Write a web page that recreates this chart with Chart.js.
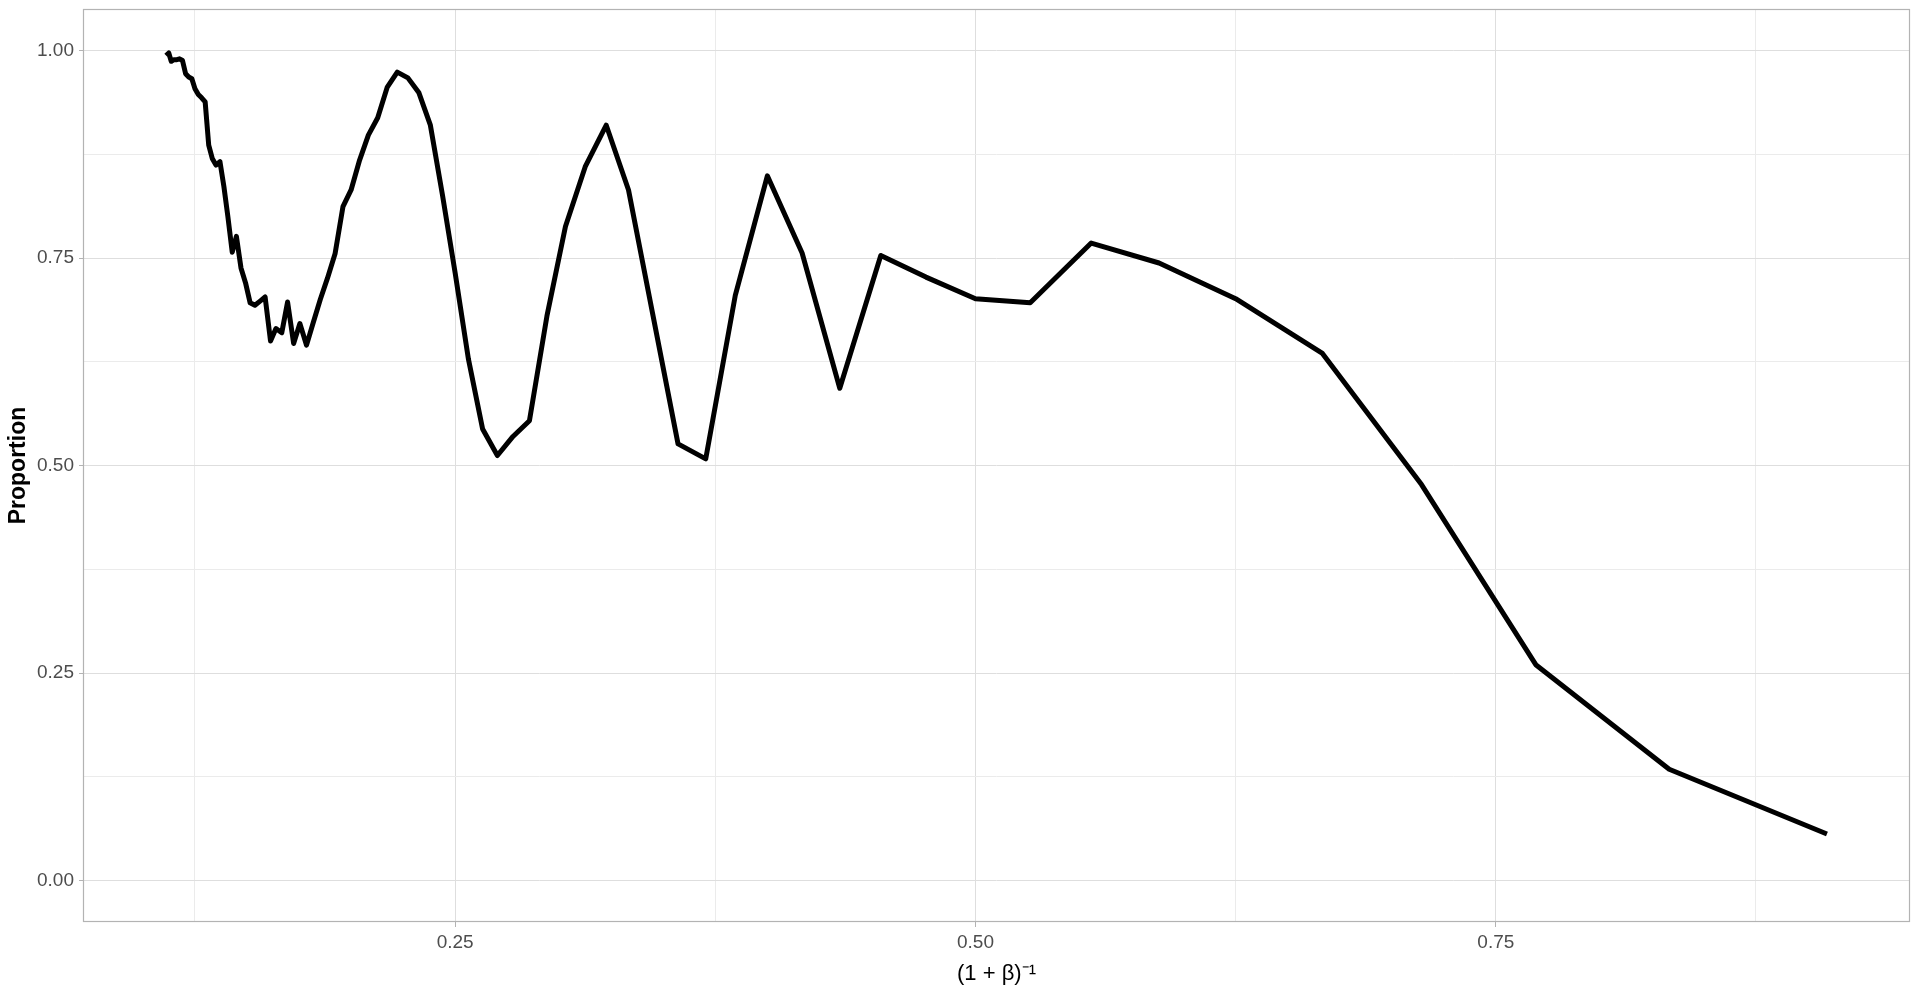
<!DOCTYPE html>
<html>
<head>
<meta charset="utf-8">
<script src="https://cdn.jsdelivr.net/npm/chart.js@4"></script>
<style>
  body { margin: 0; background: #fff; }
  #wrap { width: 1920px; height: 1002px; position: relative; }
</style>
</head>
<body>
<div id="wrap"><canvas id="line-chart"></canvas></div>
<script>

// x = (1+beta)^-1, read left to right
let xValues = [0.1111, 0.1124, 0.1136, 0.1149, 0.1163, 0.1176, 0.1190, 0.1205, 0.1220, 0.1235,
  0.1250, 0.1266, 0.1282, 0.1299, 0.1316, 0.1333, 0.1351, 0.1370, 0.1389, 0.1408,
  0.1429, 0.1449, 0.1471, 0.1493, 0.1515, 0.1538, 0.1563, 0.1587, 0.1613, 0.1639,
  0.1667, 0.1695, 0.1724, 0.1754, 0.1786, 0.1818, 0.1852, 0.1887, 0.1923, 0.1961,
  0.2000, 0.2041, 0.2083, 0.2128, 0.2174, 0.2222, 0.2273, 0.2326, 0.2381, 0.2439,
  0.2500, 0.2564, 0.2632, 0.2703, 0.2778, 0.2857, 0.2941, 0.3030, 0.3125, 0.3226,
  0.3333, 0.3448, 0.3571, 0.3704, 0.3846, 0.4000, 0.4167, 0.4348, 0.4545, 0.4762,
  0.5000, 0.5263, 0.5556, 0.5882, 0.6250, 0.6667, 0.7143, 0.7692, 0.8333, 0.9091];

let proportion = [0.994, 0.997, 0.987, 0.989, 0.989, 0.990, 0.988, 0.972, 0.968, 0.966,
  0.954, 0.947, 0.943, 0.938, 0.886, 0.870, 0.862, 0.866, 0.836, 0.800,
  0.757, 0.776, 0.738, 0.720, 0.696, 0.693, 0.698, 0.703, 0.650, 0.665,
  0.660, 0.697, 0.647, 0.671, 0.645, 0.672, 0.700, 0.726, 0.755, 0.812,
  0.832, 0.868, 0.898, 0.919, 0.956, 0.974, 0.967, 0.949, 0.910, 0.826,
  0.732, 0.628, 0.544, 0.512, 0.535, 0.554, 0.680, 0.788, 0.860, 0.910,
  0.832, 0.684, 0.526, 0.508, 0.705, 0.849, 0.756, 0.593, 0.753, 0.727,
  0.701, 0.696, 0.768, 0.744, 0.701, 0.635, 0.477, 0.260, 0.134, 0.056];

let xMajor = [0.25, 0.5, 0.75];
let xMinor = [0.125, 0.375, 0.625, 0.875];
let xLabels = ["0.25", "0.50", "0.75"];

let yMajor = [0, 0.25, 0.5, 0.75, 1.0];
let yMinor = [0.125, 0.375, 0.625, 0.875];
let yLabels = ["0.00", "0.25", "0.50", "0.75", "1.00"];


function findMajor(list, v){
  for (var i = 0; i < list.length; i++){
    if (Math.abs(list[i] - v) < 1e-9) return i;
  }
  return -1;
}

function tickList(major, minor){
  return major.concat(minor).sort(function(a, b){ return a - b; }).map(function(v){ return {value: v}; });
}

// ggplot style panel border
const panelBorder = {
  id: 'panelBorder',
  afterDraw(chart){
    const a = chart.chartArea;
    const ctx = chart.ctx;
    ctx.save();
    ctx.strokeStyle = '#B3B3B3';
    ctx.lineWidth = 1.2;
    ctx.strokeRect(a.left + 0.5, a.top + 0.5, a.right - a.left - 1, a.bottom - a.top - 1);
    ctx.restore();
  }
};

function loadGraph(){
  var points = [];
  for (var i = 0; i < xValues.length; i++){
    points.push({x: xValues[i], y: proportion[i]});
  }

  var ctx = document.getElementById('line-chart');
  var myChart = new Chart(ctx, {
    type: 'line',
    data: {
      datasets: [{
        label: 'Proportion',
        data: points,
        borderColor: '#000000',
        borderWidth: 5,
        borderJoinStyle: 'round',
        pointRadius: 0,
        fill: false,
        tension: 0
      }]
    },
    options: {
      responsive: true,
      maintainAspectRatio: false,
      animation: false,
      layout: { padding: { top: 9, right: 10, left: 0, bottom: 0 } },
      plugins: {
        legend: { display: false },
        tooltip: { enabled: false }
      },
      scales: {
        x: {
          type: 'linear',
          min: 0.0712,
          max: 0.949,
          afterBuildTicks: function(scale){ scale.ticks = tickList(xMajor, xMinor); },
          afterFit: function(scale){
            scale.height = 80;
            scale.paddingLeft = 0;
            scale.paddingRight = 0;
          },
          grid: {
            color: function(c){ return findMajor(xMajor, c.tick.value) >= 0 ? '#DEDEDE' : '#EBEBEB'; },
            lineWidth: 1,
            tickLength: 5,
            tickColor: function(c){ return findMajor(xMajor, c.tick.value) >= 0 ? '#B3B3B3' : 'rgba(0,0,0,0)'; }
          },
          border: { display: false },
          ticks: {
            autoSkip: false,
            maxRotation: 0,
            padding: 4,
            color: '#4D4D4D',
            font: { family: 'Liberation Sans', size: 19 },
            callback: function(value){
              var i = findMajor(xMajor, value);
              return i >= 0 ? xLabels[i] : '';
            }
          },
          title: {
            display: true,
            text: '(1 + β)⁻¹',
            color: '#000000',
            font: { family: 'Liberation Sans', size: 22 },
            padding: { top: 0, bottom: 15 }
          }
        },
        y: {
          type: 'linear',
          min: -0.05,
          max: 1.05,
          afterBuildTicks: function(scale){ scale.ticks = tickList(yMajor, yMinor); },
          afterFit: function(scale){
            scale.width = 83;
            scale.paddingTop = 0;
            scale.paddingBottom = 0;
          },
          grid: {
            color: function(c){ return findMajor(yMajor, c.tick.value) >= 0 ? '#DEDEDE' : '#EBEBEB'; },
            lineWidth: 1,
            tickLength: 4,
            tickColor: function(c){ return findMajor(yMajor, c.tick.value) >= 0 ? '#B3B3B3' : 'rgba(0,0,0,0)'; }
          },
          border: { display: false },
          ticks: {
            autoSkip: false,
            padding: 5,
            color: '#4D4D4D',
            font: { family: 'Liberation Sans', size: 19 },
            callback: function(value){
              var i = findMajor(yMajor, value);
              return i >= 0 ? yLabels[i] : '';
            }
          },
          title: {
            display: true,
            text: 'Proportion',
            color: '#000000',
            font: { family: 'Liberation Sans', size: 23, weight: 'bold' },
            padding: { top: 5, bottom: 0 }
          }
        }
      }
    },
    plugins: [panelBorder]
  });
}

loadGraph();
</script>
</body>
</html>
